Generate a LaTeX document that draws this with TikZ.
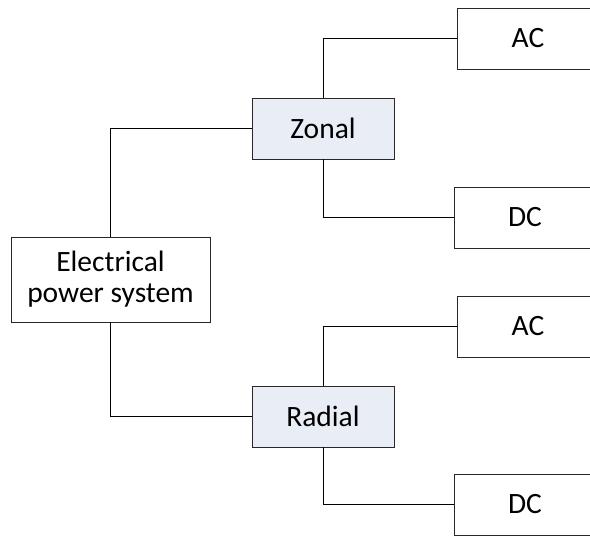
\documentclass[tikz,border=0pt]{standalone}
\usepackage{fontspec}
\setmainfont{Carlito}
\definecolor{boxfill}{RGB}{233,237,245}
\definecolor{boxline}{RGB}{40,40,40}
\begin{document}
\begin{tikzpicture}[x=1pt,y=-1pt,
  box/.style={draw=boxline,line width=0.9pt,minimum width=142pt,minimum height=61pt,inner sep=0pt,font=\fontsize{29.5}{31}\selectfont,align=center},
  mid/.style={box,fill=boxfill},
  wire/.style={draw=black,line width=0.8pt}]
\useasboundingbox (0,0) rectangle (590,536);
\clip (0,0) rectangle (590,536);
\node[box,minimum width=199pt,minimum height=85pt] (eps) at (110.5,279.5) {Electrical\\power system};
\node[mid] (zonal) at (323,128.5) {Zonal};
\node[mid] (radial) at (323,416.5) {Radial};
\node[box] (ac1) at (528,38.5) {AC};
\node[box] (dc1) at (525,217.5) {DC};
\node[box] (ac2) at (528,326.5) {AC};
\node[box] (dc2) at (525,504.5) {DC};
\draw[wire] (eps.north) |- (zonal.west);
\draw[wire] (eps.south) |- (radial.west);
\draw[wire] (zonal.north) |- (ac1.west);
\draw[wire] (zonal.south) |- (dc1.west);
\draw[wire] (radial.north) |- (ac2.west);
\draw[wire] (radial.south) |- (dc2.west);
\end{tikzpicture}
\end{document}
